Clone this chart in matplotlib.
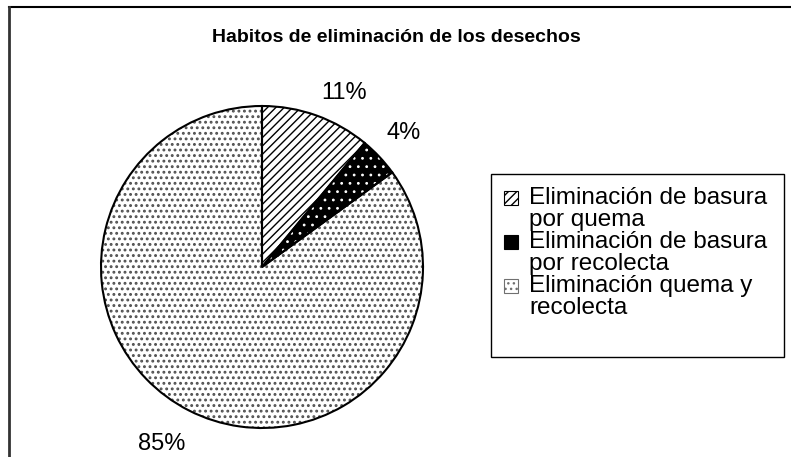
import matplotlib

matplotlib.use("Agg")
import matplotlib.pyplot as plt
from matplotlib.lines import Line2D
from matplotlib.patches import Patch, Rectangle

categories = [
    "Eliminación de basura\npor quema",
    "Eliminación de basura\npor recolecta",
    "Eliminación quema y\nrecolecta",
]
shares = [11, 4, 85]
title = "Habitos de eliminación de los desechos"

# fill styles per slice: face colour, hatch colour, hatch pattern
face_colors = ["white", "black", "white"]
hatch_colors = ["black", "white", "#505050"]
hatches = ["////", "..", "..."]
hatch_widths = [1.0, 0.8, 1.3]

plt.rcParams["font.family"] = ["Liberation Sans", "DejaVu Sans"]
plt.rcParams["hatch.linewidth"] = 1.0

W, H = 791, 457
fig = plt.figure(figsize=(W / 100, H / 100), dpi=100)

# pie axes placed around centre (262, 267) px with radius 161 px
cx, cy, r = 262, 267, 161
ax = fig.add_axes([(cx - r) / W, (H - cy - r) / H, 2 * r / W, 2 * r / H])

pct_labels = [f"{v}%" for v in shares]
wedges, texts = ax.pie(
    shares,
    startangle=90,
    counterclock=False,
    labels=pct_labels,
    labeldistance=1.22,
    wedgeprops=dict(linewidth=0),
    textprops=dict(fontsize=17),
)
for w, fc, hc, ht, hw in zip(wedges, face_colors, hatch_colors, hatches, hatch_widths):
    w.set_facecolor(fc)
    w.set_edgecolor(hc)
    w.set_hatch(ht)
    if hasattr(w, "set_hatch_linewidth"):
        w.set_hatch_linewidth(hw)

# Excel-style label placement (data coords of the label centres)
label_pos = [(0.51, 1.08), (0.88, 0.83), (-0.62, -1.1)]
for t, pos in zip(texts, label_pos):
    t.set_position(pos)
    t.set_horizontalalignment("center")
    t.set_verticalalignment("center")

# black outlines drawn over the hatched wedges
ax.pie(
    shares,
    startangle=90,
    counterclock=False,
    wedgeprops=dict(fill=False, edgecolor="black", linewidth=1.5),
)
ax.set_xlim(-1, 1)
ax.set_ylim(-1, 1)
ax.axis("off")


class TopSquareHandler:
    """Square handle aligned with the first line of a two-line label."""

    def legend_artist(self, legend, orig_handle, fontsize, handlebox):
        size = 0.55 * fontsize
        y0 = 0.5 * 0.73 * fontsize + 0.45 * fontsize - size / 2
        p = Rectangle(
            (0, y0), size, size,
            facecolor=orig_handle.get_facecolor(),
            edgecolor=orig_handle.get_edgecolor(),
            hatch=orig_handle.get_hatch(),
            linewidth=0.8,
            transform=handlebox.get_transform(),
        )
        handlebox.add_artist(p)
        return p


handles = [
    Patch(facecolor=fc, edgecolor=hc, hatch=ht)
    for fc, hc, ht in zip(face_colors, hatch_colors, hatches)
]
handles[1].set_edgecolor("black")
handles[2].set_edgecolor("#707070")
leg = fig.legend(
    handles,
    categories,
    loc="upper left",
    bbox_to_anchor=(491 / W, 1 - 174 / H),
    borderaxespad=0,
    fontsize=17.5,
    handler_map={Patch: TopSquareHandler()},
    handlelength=0.58,
    handletextpad=0.45,
    borderpad=0.55,
    labelspacing=0.0,
    frameon=False,
)
for t in leg.get_texts():
    t.set_linespacing(1.0)

# legend box as drawn in the original (taller than its text)
fig.add_artist(Rectangle((491 / W, 1 - 357 / H), 293 / W, 183 / H,
                         transform=fig.transFigure, fill=False,
                         edgecolor="black", linewidth=1.0))

fig.text(396 / W, 1 - 37 / H, title, ha="center", va="center",
         fontsize=14, fontweight="bold")

# chart-area border: only the top and left edges fall inside the image
fig.add_artist(Line2D([8.5 / W, 1.0], [1 - 7 / H] * 2, color="black", lw=1.5,
                      transform=fig.transFigure))
fig.add_artist(Line2D([8.5 / W] * 2, [0, 1 - 7 / H], color="#333333", lw=2,
                      transform=fig.transFigure))

fig.savefig("out.png", dpi=100)
